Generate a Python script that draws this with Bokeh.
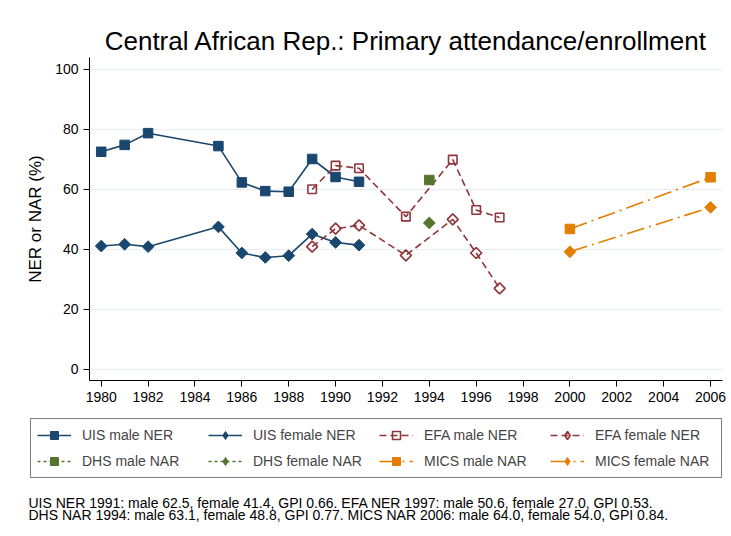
from bokeh.plotting import figure
from bokeh.layouts import column
from bokeh.models import Range1d, FixedTicker, Legend, LegendItem, Label
from bokeh.embed import file_html
from bokeh.resources import INLINE

# ---- data ----
uis_years = [1980, 1981, 1982, 1985, 1986, 1987, 1988, 1989, 1990, 1991]
uis_male = [72.5, 74.8, 78.7, 74.4, 62.3, 59.4, 59.2, 70.1, 64.1, 62.5]
uis_female = [41.1, 41.7, 40.9, 47.5, 38.8, 37.3, 37.9, 45.1, 42.3, 41.4]

efa_years = [1989, 1990, 1991, 1993, 1995, 1996, 1997]
efa_male = [60.0, 67.9, 67.0, 50.9, 69.9, 53.1, 50.6]
efa_female = [40.9, 46.9, 48.0, 38.0, 50.0, 38.8, 27.0]

dhs_years = [1994]
dhs_male = [63.1]
dhs_female = [48.8]

mics_years = [2000, 2006]
mics_male = [46.8, 64.0]
mics_female = [39.2, 54.0]

x_ticks = list(range(1980, 2007, 2))
y_ticks = [0, 20, 40, 60, 80, 100]

title_text = "Central African Rep.: Primary attendance/enrollment"
y_label = "NER or NAR (%)"
legend_labels = ["UIS male NER", "UIS female NER", "EFA male NER", "EFA female NER",
                 "DHS male NAR", "DHS female NAR", "MICS male NAR", "MICS female NAR"]
note_lines = [
    "UIS NER 1991: male 62.5, female 41.4, GPI 0.66. EFA NER 1997: male 50.6, female 27.0, GPI 0.53.",
    "DHS NAR 1994: male 63.1, female 48.8, GPI 0.77. MICS NAR 2006: male 64.0, female 54.0, GPI 0.84.",
]

NAVY = "#1a476f"
MAROON = "#90353b"
GREEN = "#55752f"
ORANGE = "#e37e00"
FONT = "Liberation Sans"
DIAMOND = 0.7853981634

W = 730
H1 = 416
H2 = 119

p = figure(width=W, height=H1, output_backend="svg", toolbar_location=None,
           x_range=Range1d(1979.5, 2006.51), y_range=Range1d(-3.67, 103.9),
           min_border_left=89, min_border_right=8, min_border_top=57, min_border_bottom=36,
           title=title_text)
p.frame_align = False
p.outline_line_color = None
p.background_fill_color = "white"
p.border_fill_color = "white"

p.title.text_font = FONT
p.title.text_font_size = "26px"
p.title.text_font_style = "normal"
p.title.text_color = "black"
p.title.align = "center"
p.title.standoff = 4

for ax in (p.xaxis[0], p.yaxis[0]):
    ax.axis_line_color = "black"
    ax.major_tick_line_color = "black"
    ax.major_tick_out = 6
    ax.major_tick_in = 0
    ax.minor_tick_line_color = None
    ax.major_label_text_font = FONT
    ax.major_label_text_font_size = "14px"
    ax.major_label_text_color = "black"

p.xaxis.ticker = FixedTicker(ticks=x_ticks)
p.yaxis.ticker = FixedTicker(ticks=y_ticks)
p.xaxis.major_label_standoff = 5
p.yaxis.major_label_standoff = 5
p.yaxis.axis_label = y_label
p.yaxis.axis_label_text_font = FONT
p.yaxis.axis_label_text_font_size = "17px"
p.yaxis.axis_label_text_font_style = "normal"
p.yaxis.axis_label_text_color = "black"
p.yaxis.axis_label_standoff = 7

p.xgrid.grid_line_color = None
p.ygrid.grid_line_color = "#e6eef3"
p.ygrid.grid_line_width = 1.2

# ---- legend / notes panel (its ranges keep the key renderers' data off-screen) ----
q = figure(width=W, height=H2, output_backend="svg", toolbar_location=None,
           x_range=Range1d(0, 1), y_range=Range1d(0, 1),
           x_axis_type=None, y_axis_type=None,
           min_border_left=0, min_border_right=0, min_border_top=0, min_border_bottom=0)
q.frame_align = False
q.outline_line_color = None
q.background_fill_color = "white"
q.border_fill_color = "white"
q.xgrid.grid_line_color = None
q.ygrid.grid_line_color = None

# (color, dash, is_diamond, size, hollow)
styles = [
    (NAVY, "solid", False, 9.5, False),
    (NAVY, "solid", True, 8.3, False),
    (MAROON, "7 4", False, 8.5, True),
    (MAROON, "7 4", True, 7.8, True),
    (GREEN, "3 3", False, 9.5, False),
    (GREEN, "3 3", True, 8.3, False),
    (ORANGE, "18 5 2 5", False, 9.5, False),
    (ORANGE, "18 5 2 5", True, 8.3, False),
]
data = [
    (uis_years, uis_male), (uis_years, uis_female),
    (efa_years, efa_male), (efa_years, efa_female),
    (dhs_years, dhs_male), (dhs_years, dhs_female),
    (mics_years, mics_male), (mics_years, mics_female),
]

def draw(fig, xs, ys, color, dash, is_diamond, size, hollow, for_key=False):
    l = fig.line(xs, ys, line_color=color, line_width=1.6, line_dash=dash)
    if is_diamond and for_key:
        marker, angle, size = "diamond", 0.0, size * 1.75
    elif is_diamond:
        marker, angle = "square", DIAMOND
    else:
        marker, angle = "square", 0.0
    s = fig.scatter(xs, ys, marker=marker, size=size, angle=angle,
                    line_color=color, line_width=1.6 if hollow else 1,
                    fill_color=color, fill_alpha=0.0 if hollow else 1.0)
    return [l, s]

items = []
for (xs, ys), st, lab in zip(data, styles, legend_labels):
    draw(p, xs, ys, *st)
    items.append(LegendItem(label=lab, renderers=draw(q, xs, ys, *st, for_key=True)))

# Bokeh fills legend columns first: reorder so rows read as in the reference
order = [0, 4, 1, 5, 2, 6, 3, 7]
legend = Legend(items=[items[i] for i in order], ncols=4, location=(30, 57),
                glyph_width=34, glyph_height=20, label_height=20, label_width=120,
                label_standoff=11, spacing=6, padding=6, margin=0,
                label_text_font=FONT, label_text_font_size="14px",
                border_line_color="black", border_line_width=1,
                background_fill_color="white", background_fill_alpha=1.0)
q.add_layout(legend, "center")

for i, t in enumerate(note_lines):
    q.add_layout(Label(x=28, y=33 - 12.5 * i, x_units="screen", y_units="screen",
                       text=t, text_font=FONT, text_font_size="14px",
                       text_color="black", text_baseline="alphabetic"))

layout = column(p, q, spacing=0)
open("out.html", "w").write(file_html(layout, INLINE))
